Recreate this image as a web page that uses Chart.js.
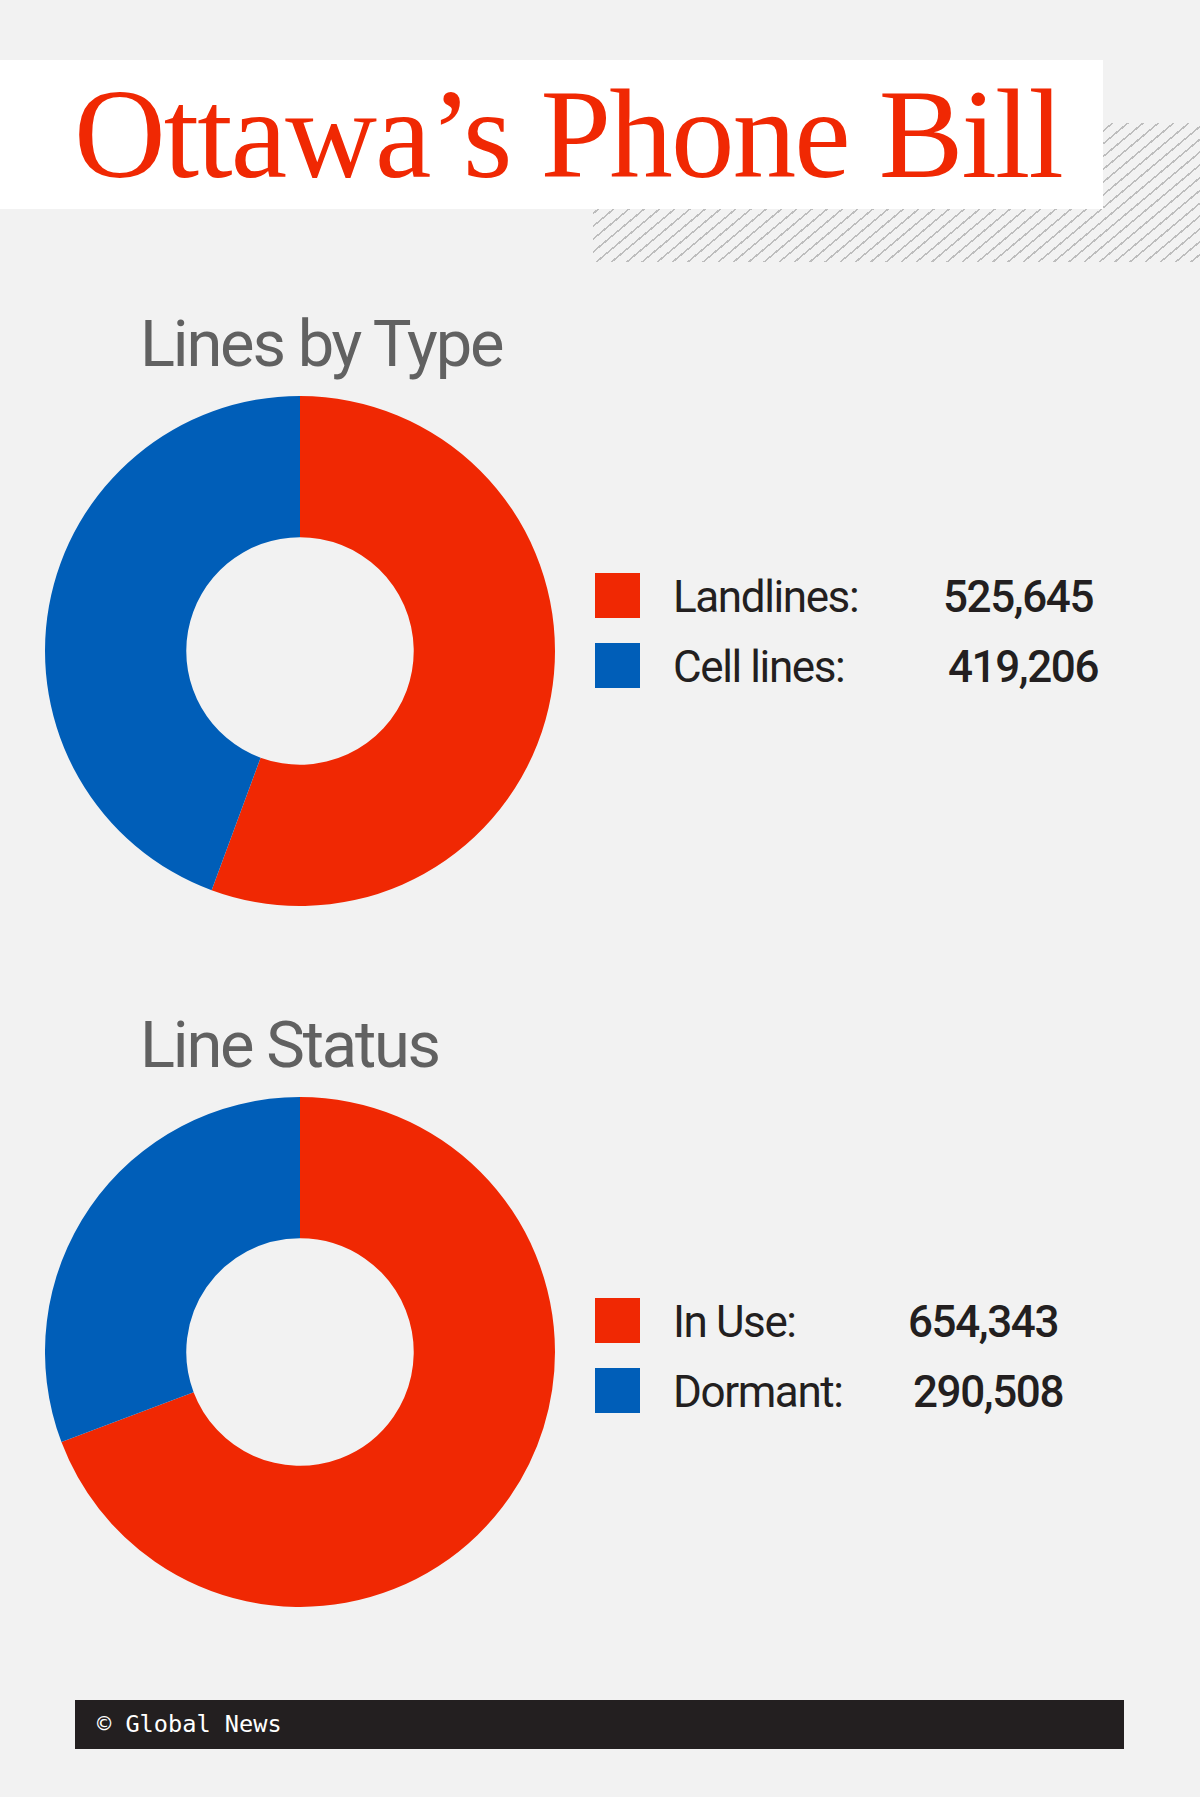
<!DOCTYPE html>
<html>
<head>
<meta charset="utf-8">
<script src="https://cdn.jsdelivr.net/npm/chart.js@4"></script>
<style>
  html, body { margin: 0; padding: 0; }
  body { width: 1200px; height: 1797px; background: #f2f2f2; position: relative; overflow: hidden; font-family: Roboto, sans-serif; }
  .hatch { position: absolute; left: 593px; top: 123px; width: 607px; height: 139px;
    background: repeating-linear-gradient(140deg, #bdbdbd 0 1.6px, transparent 1.6px 9.8px); }
  .titlebox { position: absolute; left: 0; top: 60px; width: 1103px; height: 149px; background: #fff; }
  .title { position: absolute; left: 74px; top: 71px; margin: 0; font-family: "Liberation Serif", serif; font-weight: 400;
    font-size: 127px; line-height: 1; letter-spacing: -1.85px; color: #f02803; white-space: nowrap; }
  .subtitle { position: absolute; left: 140px; margin: 0; font-size: 65px; font-weight: 400; line-height: 1; color: #616161; letter-spacing: -2.2px; }
  canvas { position: absolute; }
  .legend { position: absolute; left: 595px; }
  .row { position: relative; height: 70px; }
  .swatch { position: absolute; left: 0; top: 0; width: 45px; height: 45px; }
  .lab { position: absolute; left: 78px; top: 2px; font-size: 44px; line-height: 1; color: #231f20; white-space: nowrap; letter-spacing: -1.4px; }
  .val { position: absolute; top: 2px; font-size: 44px; font-weight: 500; line-height: 1; color: #231f20; white-space: nowrap; letter-spacing: -1.4px; }
  .footer { position: absolute; left: 75px; top: 1700px; width: 1049px; height: 49px; background: #231f20; }
  .footer span { position: absolute; left: 22px; top: 13px; font-family: "DejaVu Sans Mono", monospace; font-size: 23.6px; line-height: 1; color: #fff; }
</style>
</head>
<body>
<div class="hatch"></div>
<div class="titlebox"></div>
<h1 class="title">Ottawa’s Phone Bill</h1>

<h2 class="subtitle" style="top:312px">Lines by Type</h2>
<canvas id="typeChart" width="510" height="510" style="left:45px;top:396px"></canvas>
<div class="legend" id="typeLegend" style="top:573px"></div>

<h2 class="subtitle" style="top:1013px">Line Status</h2>
<canvas id="statusChart" width="510" height="510" style="left:45px;top:1097px"></canvas>
<div class="legend" id="statusLegend" style="top:1298px"></div>

<div class="footer"><span>© Global News</span></div>

<script>
// ---- data ----
const typeLabels = ['Landlines:', 'Cell lines:'];
const typeValues = [525645, 419206];
const statusLabels = ['In Use:', 'Dormant:'];
const statusValues = [654343, 290508];
const sliceColors = ['#f02803', '#005eb8'];

function makeDonut(id, labels, values) {
  new Chart(document.getElementById(id), {
    type: 'doughnut',
    data: {
      labels: labels,
      datasets: [{
        data: values,
        backgroundColor: sliceColors,
        borderWidth: 0,
        hoverOffset: 0,
      }],
    },
    options: {
      responsive: false,
      animation: false,
      cutout: '44.6%',
      layout: { padding: 0 },
      plugins: {
        legend: { display: false },
        tooltip: { enabled: false },
      },
    },
  });
}

function makeLegend(id, labels, values, valueLeft) {
  const box = document.getElementById(id);
  labels.forEach((lab, i) => {
    const row = document.createElement('div');
    row.className = 'row';
    row.innerHTML =
      '<div class="swatch" style="background:' + sliceColors[i] + '"></div>' +
      '<div class="lab">' + lab + '</div>' +
      '<div class="val" style="left:' + (valueLeft + i * 5) + 'px">' + values[i].toLocaleString('en-US') + '</div>';
    box.appendChild(row);
  });
}

makeDonut('typeChart', typeLabels, typeValues);
makeDonut('statusChart', statusLabels, statusValues);
makeLegend('typeLegend', typeLabels, typeValues, 348);
makeLegend('statusLegend', statusLabels, statusValues, 313);
</script>
</body>
</html>
